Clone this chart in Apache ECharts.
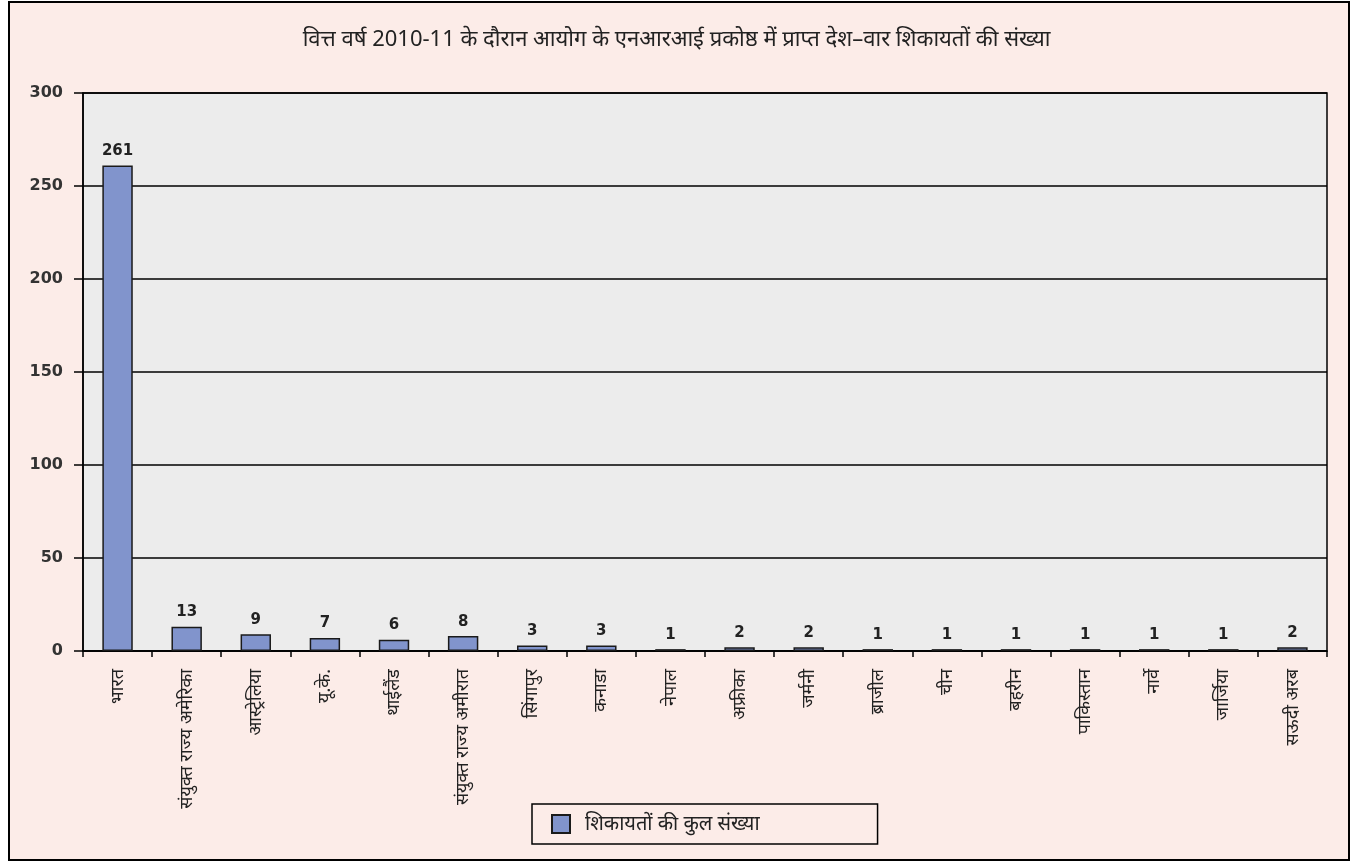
<!DOCTYPE html>
<html><head><meta charset="utf-8">
<script src="https://cdn.jsdelivr.net/npm/echarts@6/dist/echarts.min.js"></script>
<style>html,body{margin:0;padding:0;background:#fff}#c{width:1353px;height:863px}</style>
</head><body><div id="c"></div>
<script>
const titleText = 'वित्त वर्ष 2010-11 के दौरान आयोग के एनआरआई प्रकोष्ठ में प्राप्त देश–वार शिकायतों की संख्या';
const seriesName = 'शिकायतों की कुल संख्या';
const categories = ['भारत','संयुक्त राज्य अमेरिका','आस्ट्रेलिया','यू.के.','थाईलैंड','संयुक्त राज्य अमीरात','सिंगापुर','कनाडा','नेपाल','अफ्रीका','जर्मनी','ब्राजील','चीन','बहरीन','पाकिस्तान','नार्वे','जार्जिया','सऊदी अरब'];
const values = [261,13,9,7,6,8,3,3,1,2,2,1,1,1,1,1,1,2];
const yTicks = {min:0, max:300, interval:50};

const chart = echarts.init(document.getElementById('c'));
const devFont = '"Noto Sans", "Noto Sans Devanagari", "Liberation Sans", sans-serif';
const numFont = '"DejaVu Sans", Verdana, sans-serif';
chart.setOption({
  backgroundColor:'#ffffff',
  animation:false,
  graphic:[{type:'rect', z:-10, shape:{x:9,y:2,width:1340,height:858}, style:{fill:'#fcece8', stroke:'#000', lineWidth:2}}],
  title:{text:titleText, left:'center', top:24, textStyle:{fontFamily:devFont, fontSize:22, fontWeight:'normal', color:'#222'}},
  legend:{data:[seriesName], bottom:19, left:532, itemWidth:18, itemHeight:18, itemGap:10,
    icon:'rect',
    padding:[10,118,10,19], borderColor:'#000', borderWidth:1.5,
    textStyle:{fontFamily:devFont, fontSize:20, color:'#222', padding:[0,0,0,10]}},
  grid:{left:83, right:26, top:93, bottom:212, show:true, backgroundColor:'#ececec', borderColor:'#000', borderWidth:1.5},
  xAxis:{type:'category', data:categories,
    axisLine:{lineStyle:{color:'#000', width:1.5}},
    axisTick:{show:true, length:6, lineStyle:{color:'#000', width:1.5}},
    axisLabel:{rotate:90, interval:0, margin:18, fontFamily:devFont, fontSize:18, color:'#222'}},
  yAxis:{type:'value', min:yTicks.min, max:yTicks.max, interval:yTicks.interval,
    axisLine:{show:true, lineStyle:{color:'#000', width:1.5}},
    axisTick:{show:true, length:9, lineStyle:{color:'#000', width:1.5}},
    splitLine:{lineStyle:{color:'#000', width:1.5}},
    axisLabel:{margin:20, fontFamily:numFont, fontSize:16, fontWeight:'bold', color:'#333'}},
  series:[{name:seriesName, type:'bar', data:values, barWidth:'44%',
    itemStyle:{color:'#8194cc', borderColor:'#1a1a1a', borderWidth:1.5},
    label:{show:true, position:'top', distance:7, fontFamily:numFont, fontSize:15, fontWeight:'bold', color:'#222'}}]
});
</script></body></html>
